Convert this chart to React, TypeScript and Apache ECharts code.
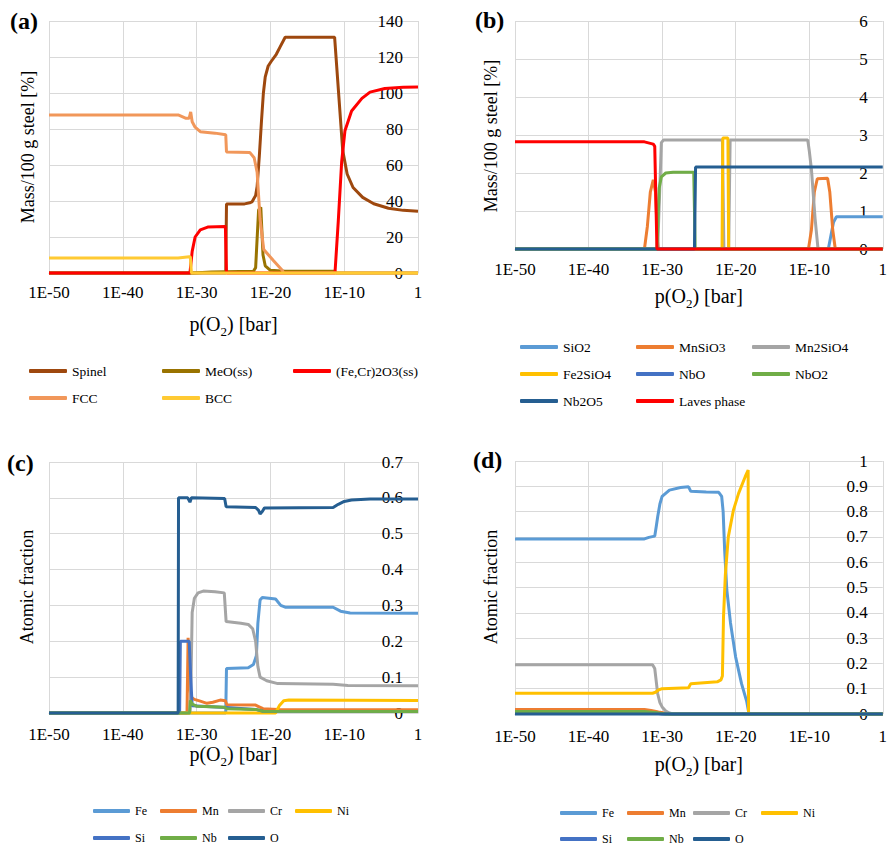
import React, { useEffect, useRef } from 'react';
import * as echarts from 'echarts';

const FONT = 'Liberation Serif';
const GRID_COLOR = '#d9d9d9';

// x values are log10(pO2 / bar)
const xTicks = [-50, -40, -30, -20, -10, 0];
const xTickLabels = ['1E-50', '1E-40', '1E-30', '1E-20', '1E-10', '1'];

// ---------- (a) Mass/100 g steel [%] ----------
const spinel: [number, number][] = [[-50,0],[-26.05,0],[-25.95,38.3],[-23.5,38.4],[-22.8,39],[-22.5,39.5],[-22.0,43],[-21.8,48],[-21.5,65],[-21.2,85],[-20.95,100],[-20.7,109],[-20.3,115],[-19.9,117.5],[-19.2,121.5],[-18.7,125.5],[-18.0,131],[-11.3,131],[-10.2,68],[-9.6,55],[-8.8,47.5],[-7.5,42],[-6,38.5],[-4,36],[-2,34.8],[0,34.3]];
const meo: [number, number][] = [[-50,0],[-30.5,0],[-28,0.5],[-22.3,1],[-22,3],[-21.6,35],[-21.3,36.5],[-21.0,10],[-20.7,4],[-20,1.5],[-18,1],[-11.3,1],[-11.1,0],[0,0]];
const fecr2o3: [number, number][] = [[-50,0],[-30.9,0],[-30.6,12],[-30.2,20],[-29.5,24],[-28.5,25.5],[-26.1,25.8],[-25.95,0],[-11.25,0],[-10.8,29],[-10.34,62],[-9.9,79],[-9.0,90],[-7.6,97],[-6.5,100.5],[-4.5,102.5],[-2,103.2],[0,103.3]];
const fcc: [number, number][] = [[-50,87.8],[-32.5,87.8],[-31.5,86],[-31,86],[-30.8,89.5],[-30.6,84],[-30.2,81],[-29.5,78.5],[-27.5,77.7],[-26.05,76.8],[-25.95,67.2],[-22.8,67],[-22.2,64],[-21.8,56],[-21.4,30],[-20.9,13],[-19.6,7],[-18.4,1.5],[-18.2,0],[0,0]];
const bcc: [number, number][] = [[-50,8.3],[-32.5,8.3],[-31,9],[-30.85,9],[-30.7,0],[0,0]];

// ---------- (b) Mass/100 g steel [%] ----------
const sio2: [number, number][] = [[-50,0],[-7.4,0],[-6.7,0.7],[-6.3,0.85],[0,0.85]];
const mnsio3: [number, number][] = [[-50,0],[-32.4,0],[-32,0.6],[-31.6,1.5],[-31.2,1.82],[-30.9,1.5],[-30.6,0.2],[-30.5,0],[-10.1,0],[-9.7,0.5],[-9.3,1.5],[-8.9,1.85],[-7.5,1.86],[-7.2,1.5],[-6.8,0.5],[-6.45,0],[0,0]];
const mn2sio4: [number, number][] = [[-50,0],[-30.6,0],[-30.1,2.8],[-29.8,2.87],[-21.8,2.87],[-21.6,0],[-20.95,0],[-20.75,2.87],[-10.2,2.87],[-10.0,2.6],[-9.7,2.1],[-9.2,0.8],[-8.8,0],[0,0]];
const fe2sio4: [number, number][] = [[-50,0],[-21.85,0],[-21.75,2.92],[-21.05,2.92],[-20.95,0],[0,0]];
const nbo: [number, number][] = [[-50,0],[0,0]];
const nbo2: [number, number][] = [[-50,0],[-30.7,0],[-30.4,1.6],[-30.1,1.9],[-29.5,2.0],[-28.5,2.02],[-25.7,2.02],[-25.5,0],[0,0]];
const nb2o5: [number, number][] = [[-50,0],[-25.6,0],[-25.45,2.16],[0,2.16]];
const laves: [number, number][] = [[-50,2.82],[-32.4,2.82],[-31.2,2.76],[-31,2.7],[-30.7,0],[0,0]];

// ---------- (c) Atomic fraction ----------
const cFe: [number, number][] = [[-50,0],[-26.05,0],[-25.95,0.124],[-23,0.126],[-22.3,0.135],[-21.9,0.16],[-21.7,0.25],[-21.4,0.315],[-21.1,0.322],[-19.3,0.318],[-18.6,0.3],[-18.0,0.295],[-11.5,0.295],[-10.5,0.284],[-9.2,0.279],[0,0.278]];
const cMn: [number, number][] = [[-50,0],[-31.3,0],[-31.15,0.21],[-31.0,0.12],[-30.8,0.045],[-30.3,0.038],[-29.5,0.033],[-28.6,0.027],[-27.8,0.03],[-26.8,0.036],[-26.1,0.034],[-25.9,0.023],[-22.0,0.022],[-21.6,0.018],[-21.0,0.012],[-19,0.01],[0,0.009]];
const cCr: [number, number][] = [[-50,0],[-30.9,0],[-30.75,0.1],[-30.6,0.28],[-30.3,0.32],[-29.8,0.335],[-29.1,0.34],[-27.5,0.338],[-26.25,0.335],[-26.0,0.255],[-24,0.25],[-23,0.247],[-22.4,0.235],[-22.0,0.2],[-21.7,0.13],[-21.4,0.1],[-20.5,0.09],[-19,0.082],[-11.5,0.08],[-9.5,0.077],[0,0.076]];
const cNi: [number, number][] = [[-50,0],[-19.3,0],[-18.8,0.02],[-18.2,0.034],[-17.5,0.036],[0,0.035]];
const cSi: [number, number][] = [[-50,0],[-32.3,0],[-32.2,0.2],[-31.0,0.2],[-30.8,0.1],[-30.6,0.02],[-26,0.015],[-22,0.01],[-21,0.005],[0,0.004]];
const cNb: [number, number][] = [[-50,0],[-30.95,0],[-30.85,0.035],[-30.6,0.025],[-30.0,0.019],[-26.2,0.016],[-25.9,0.012],[-22,0.01],[-21,0.005],[0,0.004]];
const cO: [number, number][] = [[-50,0],[-32.5,0],[-32.45,0.6],[-31.2,0.6],[-30.9,0.588],[-30.7,0.6],[-26.2,0.598],[-26.0,0.575],[-22.0,0.573],[-21.6,0.565],[-21.4,0.555],[-21.1,0.562],[-20.8,0.572],[-11.5,0.573],[-10.8,0.582],[-10.0,0.59],[-9.0,0.594],[-6.5,0.597],[0,0.597]];

// ---------- (d) Atomic fraction ----------
const dFe: [number, number][] = [[-50,0.692],[-32.4,0.692],[-31.8,0.698],[-31.0,0.703],[-30.8,0.74],[-30.6,0.78],[-30.3,0.83],[-30.0,0.86],[-29.0,0.885],[-27.5,0.895],[-26.4,0.898],[-26.1,0.88],[-24,0.877],[-22.3,0.876],[-21.9,0.86],[-21.7,0.8],[-21.5,0.65],[-21.2,0.49],[-20.7,0.36],[-20.0,0.225],[-19.2,0.12],[-18.5,0.05],[-18.25,0.01],[-18.2,0],[0,0]];
const dMn: [number, number][] = [[-50,0.018],[-32.4,0.018],[-31.5,0.014],[-30.5,0.008],[-29.5,0.003],[-28.8,0],[0,0]];
const dCr: [number, number][] = [[-50,0.195],[-31.3,0.195],[-31.0,0.18],[-30.8,0.13],[-30.6,0.08],[-30.3,0.045],[-30.0,0.028],[-29.5,0.012],[-29.0,0.004],[-28.5,0],[0,0]];
const dNi: [number, number][] = [[-50,0.082],[-31.3,0.082],[-30.9,0.086],[-30.5,0.095],[-30.0,0.1],[-26.4,0.104],[-26.1,0.12],[-22.5,0.127],[-22.0,0.135],[-21.8,0.15],[-21.65,0.385],[-21.4,0.55],[-21.0,0.7],[-20.3,0.806],[-19.6,0.872],[-18.7,0.938],[-18.3,0.964],[-18.25,0],[0,0]];
const dSi: [number, number][] = [[-50,0.004],[-31,0.004],[-30,0],[0,0]];
const dNb: [number, number][] = [[-50,0.01],[-32.4,0.01],[-31,0.006],[-30,0.002],[-29.5,0],[0,0]];
const dO: [number, number][] = [[-50,0],[0,0]];

const panels = [
  {
    grid: { left: 49, top: 21, width: 369, height: 252 },
    yMax: 140, yInterval: 20, labelMargin: 11, nameGap: 41,
    series: [
      { name: 'Spinel', color: '#9E480E', data: spinel },
      { name: 'MeO(ss)', color: '#997300', data: meo },
      { name: '(Fe,Cr)2O3(ss)', color: '#FF0000', data: fecr2o3 },
      { name: 'FCC', color: '#F1975A', data: fcc },
      { name: 'BCC', color: '#FFCA33', data: bcc },
    ],
    legendPos: [[29, 364], [162, 364], [293, 364], [29, 391], [162, 391]],
    legendFont: 13.5, legendIcon: 38,
  },
  {
    grid: { left: 515, top: 21, width: 370, height: 228 },
    yMax: 6, yInterval: 1, labelMargin: 12, nameGap: 37,
    series: [
      { name: 'SiO2', color: '#5B9BD5', data: sio2 },
      { name: 'MnSiO3', color: '#ED7D31', data: mnsio3 },
      { name: 'Mn2SiO4', color: '#A5A5A5', data: mn2sio4 },
      { name: 'Fe2SiO4', color: '#FFC000', data: fe2sio4 },
      { name: 'NbO', color: '#4472C4', data: nbo },
      { name: 'NbO2', color: '#70AD47', data: nbo2 },
      { name: 'Nb2O5', color: '#255E91', data: nb2o5 },
      { name: 'Laves phase', color: '#FF0000', data: laves },
    ],
    legendPos: [[520, 340], [636, 340], [752, 340], [520, 367], [636, 367], [752, 367], [520, 394], [636, 394]],
    legendFont: 13.5, legendIcon: 38,
  },
  {
    grid: { left: 49, top: 462, width: 369, height: 251 },
    yMax: 0.7, yInterval: 0.1, labelMargin: 13, nameGap: 31,
    series: [
      { name: 'Fe', color: '#5B9BD5', data: cFe },
      { name: 'Mn', color: '#ED7D31', data: cMn },
      { name: 'Cr', color: '#A5A5A5', data: cCr },
      { name: 'Ni', color: '#FFC000', data: cNi },
      { name: 'Si', color: '#4472C4', data: cSi },
      { name: 'Nb', color: '#70AD47', data: cNb },
      { name: 'O', color: '#255E91', data: cO },
    ],
    legendPos: [[93, 805], [160, 805], [228, 805], [295, 805], [93, 832], [160, 832], [228, 832]],
    legendFont: 12, legendIcon: 37,
  },
  {
    grid: { left: 515, top: 461, width: 370, height: 253 },
    yMax: 1, yInterval: 0.1, labelMargin: 14, nameGap: 40,
    series: [
      { name: 'Fe', color: '#5B9BD5', data: dFe },
      { name: 'Mn', color: '#ED7D31', data: dMn },
      { name: 'Cr', color: '#A5A5A5', data: dCr },
      { name: 'Ni', color: '#FFC000', data: dNi },
      { name: 'Si', color: '#4472C4', data: dSi },
      { name: 'Nb', color: '#70AD47', data: dNb },
      { name: 'O', color: '#255E91', data: dO },
    ],
    legendPos: [[560, 807], [627, 807], [693, 807], [761, 807], [560, 833], [627, 833], [693, 833]],
    legendFont: 12, legendIcon: 37,
  },
];

const panelLabels = [
  { text: '(a)', x: 10, y: 21 },
  { text: '(b)', x: 475, y: 20 },
  { text: '(c)', x: 7, y: 463 },
  { text: '(d)', x: 473, y: 460 },
];
const yNames = [
  { text: 'Mass/100 g steel [%]', x: 28, y: 147 },
  { text: 'Mass/100 g steel [%]', x: 491, y: 136 },
  { text: 'Atomic fraction', x: 27, y: 587 },
  { text: 'Atomic fraction', x: 491, y: 587 },
];

function buildOption() {
  const grid: any[] = [];
  const xAxis: any[] = [];
  const yAxis: any[] = [];
  const series: any[] = [];
  const legend: any[] = [];
  panels.forEach((p, i) => {
    grid.push({ ...p.grid, containLabel: false });
    xAxis.push({
      gridIndex: i, type: 'value', min: xTicks[0], max: xTicks[xTicks.length - 1], interval: 10,
      axisLabel: {
        fontSize: 17, fontFamily: FONT, color: '#000', margin: p.labelMargin,
        formatter: (v: number) => xTickLabels[xTicks.indexOf(v)] ?? String(v),
      },
      axisTick: { show: false },
      axisLine: { show: true, lineStyle: { color: GRID_COLOR, width: 1 } },
      splitLine: { show: true, lineStyle: { color: GRID_COLOR, width: 1 } },
      name: '{a|p(O}{s|2}{a|) [bar]}',
      nameLocation: 'middle', nameGap: p.nameGap,
      nameTextStyle: {
        fontFamily: FONT,
        rich: {
          a: { fontSize: 20, fontFamily: FONT, color: '#000', lineHeight: 24, verticalAlign: 'top' },
          s: { fontSize: 13, fontFamily: FONT, color: '#000', lineHeight: 13, verticalAlign: 'bottom' },
        },
      },
    });
    yAxis.push({
      gridIndex: i, type: 'value', position: 'right', min: 0, max: p.yMax, interval: p.yInterval,
      axisLabel: { inside: true, margin: 15, fontSize: 17, fontFamily: FONT, color: '#000' },
      axisLine: { show: false }, axisTick: { show: false },
      splitLine: { show: true, lineStyle: { color: GRID_COLOR, width: 1 } },
    });
    p.series.forEach((s) => {
      series.push({
        type: 'line', name: s.name, xAxisIndex: i, yAxisIndex: i, data: s.data,
        symbol: 'none', showSymbol: false, clip: false,
        lineStyle: { color: s.color, width: 3 }, itemStyle: { color: s.color },
      });
    });
    p.series.forEach((s, k) => {
      legend.push({
        data: [s.name], left: p.legendPos[k][0], top: p.legendPos[k][1], padding: 0,
        icon: 'roundRect', itemWidth: p.legendIcon, itemHeight: 4, selectedMode: false,
        textStyle: { fontSize: p.legendFont, fontFamily: FONT, color: '#000' },
      });
    });
  });
  const graphic: any[] = [];
  panelLabels.forEach((l) => graphic.push({
    type: 'text', x: l.x, y: l.y,
    style: { text: l.text, font: `bold 24px ${FONT}`, fontSize: 24, fontWeight: 'bold', fontFamily: FONT, fill: '#000', align: 'left', verticalAlign: 'middle', textAlign: 'left', textVerticalAlign: 'middle' },
  }));
  yNames.forEach((l) => graphic.push({
    type: 'text', x: l.x, y: l.y, rotation: Math.PI / 2,
    style: { text: l.text, font: `18px ${FONT}`, fontSize: 18, fontFamily: FONT, fill: '#000', align: 'center', verticalAlign: 'middle', textAlign: 'center', textVerticalAlign: 'middle' },
  }));
  return {
    animation: false,
    backgroundColor: '#fff',
    textStyle: { fontFamily: FONT },
    grid, xAxis, yAxis, series, legend, graphic,
  };
}

export default function App() {
  const ref = useRef<HTMLDivElement>(null);
  useEffect(() => {
    if (!ref.current) return;
    const chart = echarts.init(ref.current, undefined, { renderer: 'svg' });
    chart.setOption(buildOption());
    return () => chart.dispose();
  }, []);
  return (
    <div
      ref={ref}
      style={{ position: 'fixed', left: 0, top: 0, width: 890, height: 847, background: '#fff', fontFamily: FONT }}
    />
  );
}
